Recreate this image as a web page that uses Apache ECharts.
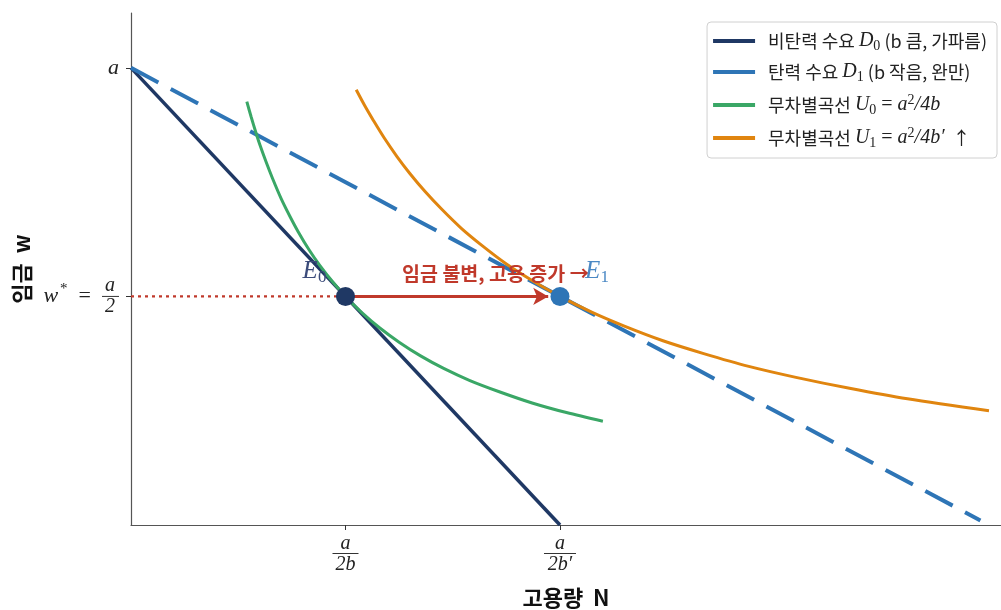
<!DOCTYPE html>
<html>
<head>
<meta charset="utf-8">
<script src="https://cdn.jsdelivr.net/npm/echarts@6/dist/echarts.min.js"></script>
<style>
  html, body { margin: 0; padding: 0; background: #fff; }
  #main { width: 1001px; height: 610px; }
</style>
</head>
<body>
<div id="main"></div>
<script>
  // 수요곡선 (a = 1, b = 0.5, b' = 0.25)
  var d0Points = [[0, 1], [2, 0]];
  var d1Points = [[0, 1], [3.96, 0.01]];

  // 무차별곡선 U0, U1 (그림에서 읽은 점)
  var u0N = [0.54, 0.56, 0.58, 0.6, 0.63, 0.66, 0.7, 0.74, 0.78, 0.83, 0.88, 0.94, 1.0, 1.08, 1.16, 1.25, 1.35, 1.46, 1.58, 1.72, 1.87, 2.03, 2.2];
  var u0W = [0.926, 0.893, 0.862, 0.833, 0.794, 0.758, 0.714, 0.676, 0.641, 0.602, 0.568, 0.532, 0.5, 0.463, 0.431, 0.4, 0.370, 0.342, 0.316, 0.291, 0.267, 0.246, 0.227];
  var u1N = [1.05, 1.09, 1.13, 1.18, 1.24, 1.3, 1.37, 1.45, 1.54, 1.64, 1.75, 1.87, 2.0, 2.15, 2.3, 2.48, 2.67, 2.88, 3.1, 3.35, 3.62, 4.0];
  var u1W = [0.952, 0.917, 0.885, 0.847, 0.806, 0.769, 0.730, 0.690, 0.649, 0.610, 0.571, 0.535, 0.5, 0.465, 0.435, 0.403, 0.375, 0.347, 0.323, 0.299, 0.276, 0.25];

  // 균형점
  var e0 = [1, 0.5];
  var e1 = [2, 0.5];

  var xTicks = [1, 2];
  var yTicks = [0.5, 1];

  var legendNames = ['비탄력 수요 D0', '탄력 수요 D1', '무차별곡선 U0', '무차별곡선 U1'];
  var legendLabels = {
    '비탄력 수요 D0': '비탄력 수요 {m|D}{s|0} (b 큼, 가파름)',
    '탄력 수요 D1': '탄력 수요 {m|D}{s|1} (b 작음, 완만)',
    '무차별곡선 U0': '무차별곡선 {m|U}{s|0}{r| = }{m|a}{p|2}{m|/4b}',
    '무차별곡선 U1': '무차별곡선 {m|U}{s|1}{r| = }{m|a}{p|2}{m|/4b′}  ↑'
  };

  function zip(xs, ys) {
    return xs.map(function (x, i) { return [x, ys[i]]; });
  }

  var mathFont = 'Liberation Serif';
  var krFont = '"Noto Sans CJK KR", "Noto Sans", sans-serif';

  var chart = echarts.init(document.getElementById('main'));
  chart.setOption({
    animation: false,
    grid: { left: 131, right: 0, top: 13, bottom: 85, outerBoundsMode: 'none' },
    legend: {
      data: legendNames,
      orient: 'vertical',
      right: 4,
      top: 22,
      icon: 'rect',
      itemWidth: 42,
      itemHeight: 4,
      itemGap: 9,
      padding: [9, 10, 8, 6],
      backgroundColor: '#fff',
      borderColor: '#d0d0d0',
      borderWidth: 1,
      borderRadius: 4,
      formatter: function (name) { return legendLabels[name]; },
      textStyle: {
        fontFamily: krFont,
        fontSize: 18,
        color: '#222',
        padding: [0, 0, 0, 8],
        rich: {
          m: { fontFamily: mathFont, fontStyle: 'italic', fontSize: 20, color: '#222' },
          r: { fontFamily: mathFont, fontSize: 20, color: '#222' },
          s: { fontFamily: mathFont, fontSize: 14, color: '#222', padding: [10, 0, 0, 0] },
          p: { fontFamily: mathFont, fontSize: 14, color: '#222', padding: [0, 0, 10, 0] }
        }
      }
    },
    xAxis: {
      type: 'value',
      min: 0,
      max: 4.056,
      name: '고용량  N',
      nameLocation: 'middle',
      nameGap: 62,
      nameTextStyle: { fontFamily: krFont, fontSize: 22, fontWeight: 'bold', color: '#111' },
      splitLine: { show: false },
      axisLine: { lineStyle: { color: '#555', width: 1.2 } },
      axisTick: { show: true, customValues: xTicks, length: 5, lineStyle: { color: '#333' } },
      axisLabel: {
        customValues: xTicks,
        margin: 10,
        formatter: function (v) {
          return v === 1 ? '{n|a}\n{b| }\n{d|2b}' : '{n|a}\n{c| }\n{d|2b′}';
        },
        rich: {
          n: { fontFamily: mathFont, fontStyle: 'italic', fontSize: 20, color: '#222', lineHeight: 17 },
          b: { width: 26, height: 1, lineHeight: 3, fontSize: 1, backgroundColor: '#333' },
          c: { width: 32, height: 1, lineHeight: 3, fontSize: 1, backgroundColor: '#333' },
          d: { fontFamily: mathFont, fontStyle: 'italic', fontSize: 20, color: '#222', lineHeight: 20 }
        }
      }
    },
    yAxis: {
      type: 'value',
      min: 0,
      max: 1.12,
      name: '임금  w',
      nameLocation: 'middle',
      nameGap: 98,
      nameRotate: 90,
      nameTextStyle: { fontFamily: krFont, fontSize: 22, fontWeight: 'bold', color: '#111' },
      splitLine: { show: false },
      axisLine: { show: true, lineStyle: { color: '#555', width: 1.2 } },
      axisTick: { show: true, customValues: yTicks, length: 5, lineStyle: { color: '#333' } },
      axisLabel: {
        customValues: yTicks,
        margin: 12,
        formatter: function (v) {
          if (v === 1) return '{a|a}';
          return '{n|a}\n{w|w}{s|*}{e|  =  }{b| }\n{n|2}';
        },
        rich: {
          a: { fontFamily: mathFont, fontStyle: 'italic', fontSize: 22, color: '#222' },
          n: { fontFamily: mathFont, fontStyle: 'italic', fontSize: 20, color: '#222', lineHeight: 18, padding: [0, 4, 0, 0] },
          w: { fontFamily: mathFont, fontStyle: 'italic', fontSize: 22, color: '#222', lineHeight: 3 },
          s: { fontFamily: mathFont, fontSize: 15, color: '#222', lineHeight: 3, padding: [0, 0, 14, 2] },
          e: { fontFamily: mathFont, fontSize: 22, color: '#222', lineHeight: 3 },
          b: { width: 17, height: 1, lineHeight: 3, fontSize: 1, backgroundColor: '#333' }
        }
      }
    },
    series: [
      {
        name: '비탄력 수요 D0',
        type: 'line',
        data: d0Points,
        symbol: 'none',
        lineStyle: { color: '#1f3864', width: 3.5 },
        itemStyle: { color: '#1f3864' },
        z: 2
      },
      {
        name: '탄력 수요 D1',
        type: 'line',
        data: d1Points,
        symbol: 'none',
        lineStyle: { color: '#2e75b6', width: 4, type: [31, 14] },
        itemStyle: { color: '#2e75b6' },
        z: 2
      },
      {
        name: '무차별곡선 U0',
        type: 'line',
        data: zip(u0N, u0W),
        smooth: 0.3,
        symbol: 'none',
        lineStyle: { color: '#3aa766', width: 3 },
        itemStyle: { color: '#3aa766' },
        z: 3
      },
      {
        name: '무차별곡선 U1',
        type: 'line',
        data: zip(u1N, u1W),
        smooth: 0.3,
        symbol: 'none',
        lineStyle: { color: '#e0850f', width: 3 },
        itemStyle: { color: '#e0850f' },
        z: 3
      },
      {
        // w* 수평 점선 + 화살표
        name: 'wstar',
        type: 'line',
        data: [[0, 0.5], e0],
        symbol: 'none',
        lineStyle: { color: '#c0392b', width: 2.2, type: [3, 4] },
        z: 4,
        markLine: {
          silent: true,
          symbol: ['none', 'arrow'],
          symbolSize: [13, 15],
          label: { show: false },
          lineStyle: { color: '#c0392b', width: 3, type: 'solid' },
          data: [[{ coord: [1.0, 0.5] }, { coord: [1.945, 0.5] }]]
        }
      },
      {
        name: 'note',
        type: 'scatter',
        data: [[1.7, 0.549]],
        symbolSize: 0,
        itemStyle: { opacity: 1 },
        z: 6,
        label: {
          show: true,
          position: 'inside',
          formatter: '임금 불변, 고용 증가 →',
          fontFamily: krFont,
          fontSize: 19.5,
          fontWeight: 'bold',
          color: '#c0392b'
        }
      },
      {
        name: 'E0',
        type: 'scatter',
        data: [e0],
        symbolSize: 19,
        itemStyle: { color: '#1f3864', opacity: 1 },
        z: 7,
        label: {
          show: true,
          position: 'top',
          offset: [-31, 4],
          formatter: '{E|E}{s|0}',
          rich: {
            E: { fontFamily: mathFont, fontStyle: 'italic', fontSize: 25, color: '#3b4b7a' },
            s: { fontFamily: mathFont, fontSize: 17, color: '#3b4b7a', padding: [12, 0, 0, 0] }
          }
        }
      },
      {
        name: 'E1',
        type: 'scatter',
        data: [e1],
        symbolSize: 19,
        itemStyle: { color: '#2e75b6', opacity: 1 },
        z: 7,
        label: {
          show: true,
          position: 'top',
          offset: [37, 4],
          formatter: '{E|E}{s|1}',
          rich: {
            E: { fontFamily: mathFont, fontStyle: 'italic', fontSize: 25, color: '#4a88c4' },
            s: { fontFamily: mathFont, fontSize: 17, color: '#4a88c4', padding: [12, 0, 0, 0] }
          }
        }
      }
    ]
  });
</script>
</body>
</html>
